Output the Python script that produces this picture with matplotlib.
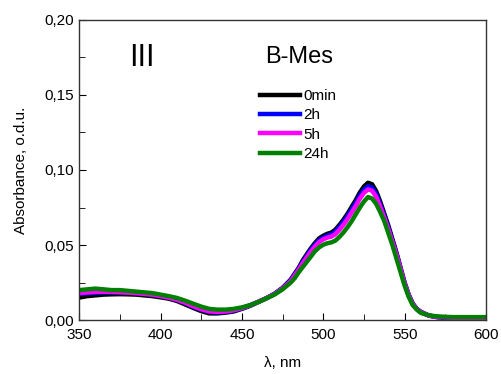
import numpy as np
import matplotlib.pyplot as plt
from matplotlib.ticker import MultipleLocator, FuncFormatter

plt.rcParams['font.family'] = ['Liberation Sans', 'DejaVu Sans']

wavelength = [350, 355, 360, 365, 370, 375, 380, 385, 390, 395,
              400, 405, 410, 415, 420, 425, 430, 435, 440, 445,
              450, 455, 460, 465, 470, 475,
              480, 482.5, 485, 487.5, 490, 492.5, 495, 497.5, 500, 502.5,
              505, 507.5, 510, 512.5, 515, 517.5, 520, 522.5, 525, 527.5,
              530, 532.5, 535, 537.5, 540, 542.5, 545, 547.5, 550, 552.5,
              555, 557.5, 560,
              565, 570, 575, 580, 585, 590, 595, 600]

abs_0min = [0.0150, 0.0160, 0.0165, 0.0170, 0.0172, 0.0173, 0.0172, 0.0170, 0.0165, 0.0160,
            0.0152, 0.0143, 0.0128, 0.0105, 0.0082, 0.0060, 0.0045, 0.0045, 0.0050, 0.0058,
            0.0075, 0.0095, 0.0120, 0.0145, 0.0175, 0.0215,
            0.0270, 0.0310, 0.0350, 0.0400, 0.0440, 0.0480, 0.0515, 0.0545, 0.0562, 0.0575,
            0.0583, 0.0603, 0.0635, 0.0670, 0.0710, 0.0755, 0.0800, 0.0850, 0.0890, 0.0915,
            0.0905, 0.0860, 0.0790, 0.0710, 0.0630, 0.0540, 0.0450, 0.0350, 0.0250, 0.0170,
            0.0110, 0.0075, 0.0055,
            0.0030, 0.0020, 0.0015, 0.0013, 0.0012, 0.0011, 0.0010, 0.0010]

abs_2h = [0.0175, 0.0180, 0.0183, 0.0185, 0.0186, 0.0186, 0.0184, 0.0180, 0.0175, 0.0170,
          0.0160, 0.0150, 0.0135, 0.0115, 0.0090, 0.0070, 0.0055, 0.0052, 0.0055, 0.0063,
          0.0078, 0.0098, 0.0122, 0.0146, 0.0175, 0.0212,
          0.0265, 0.0305, 0.0345, 0.0390, 0.0430, 0.0470, 0.0505, 0.0533, 0.0550, 0.0563,
          0.0571, 0.0590, 0.0621, 0.0655, 0.0695, 0.0738, 0.0782, 0.0830, 0.0868, 0.0892,
          0.0883, 0.0840, 0.0772, 0.0695, 0.0617, 0.0530, 0.0442, 0.0345, 0.0247, 0.0168,
          0.0108, 0.0074, 0.0054,
          0.0030, 0.0021, 0.0017, 0.0015, 0.0014, 0.0013, 0.0012, 0.0012]

abs_5h = [0.0180, 0.0185, 0.0188, 0.0189, 0.0188, 0.0186, 0.0184, 0.0180, 0.0175, 0.0170,
          0.0160, 0.0150, 0.0136, 0.0117, 0.0093, 0.0073, 0.0058, 0.0055, 0.0058, 0.0066,
          0.0080, 0.0099, 0.0122, 0.0146, 0.0174, 0.0210,
          0.0260, 0.0298, 0.0338, 0.0380, 0.0420, 0.0458, 0.0492, 0.0520, 0.0538, 0.0550,
          0.0556, 0.0573, 0.0603, 0.0636, 0.0675, 0.0717, 0.0760, 0.0810, 0.0847, 0.0871,
          0.0862, 0.0822, 0.0756, 0.0682, 0.0605, 0.0520, 0.0435, 0.0340, 0.0243, 0.0165,
          0.0106, 0.0073, 0.0053,
          0.0030, 0.0022, 0.0018, 0.0016, 0.0015, 0.0014, 0.0014, 0.0013]

abs_24h = [0.0200, 0.0205, 0.0210, 0.0205, 0.0200, 0.0200, 0.0195, 0.0190, 0.0185, 0.0180,
           0.0170, 0.0160, 0.0148, 0.0130, 0.0110, 0.0090, 0.0075, 0.0070, 0.0070, 0.0075,
           0.0085, 0.0100, 0.0120, 0.0145, 0.0170, 0.0205,
           0.0250, 0.0280, 0.0320, 0.0355, 0.0390, 0.0425, 0.0460, 0.0485, 0.0502, 0.0512,
           0.0518, 0.0530, 0.0555, 0.0585, 0.0620, 0.0660, 0.0705, 0.0750, 0.0790, 0.0820,
           0.0810, 0.0775, 0.0720, 0.0660, 0.0580, 0.0500, 0.0410, 0.0320, 0.0230, 0.0155,
           0.0100, 0.0070, 0.0048,
           0.0032, 0.0025, 0.0022, 0.0020, 0.0020, 0.0020, 0.0020, 0.0020]

labels = ['0min', '2h', '5h', '24h']
colors = ['black', 'blue', 'magenta', 'green']

fig = plt.figure(figsize=(5.01, 3.74), dpi=100)
ax = fig.add_axes([0.158, 0.144, 0.812, 0.803])

for series, lab, col in zip([abs_0min, abs_2h, abs_5h, abs_24h], labels, colors):
    ax.plot(wavelength, series, color=col, linewidth=3.2, label=lab)

ax.set_xlim(350, 600)
ax.set_ylim(0, 0.20)
ax.xaxis.set_major_locator(MultipleLocator(50))
ax.xaxis.set_minor_locator(MultipleLocator(25))
ax.yaxis.set_major_locator(MultipleLocator(0.05))
ax.yaxis.set_minor_locator(MultipleLocator(0.025))
ax.yaxis.set_major_formatter(FuncFormatter(lambda v, p: f'{v:.2f}'.replace('.', ',')))
ax.tick_params(which='both', direction='in', labelsize=11, top=False, right=False)
ax.tick_params(which='major', length=5)
ax.tick_params(which='minor', length=4)
ax.tick_params(axis='x', pad=6)
for s in ax.spines.values():
    s.set_color('#333333')
    s.set_linewidth(1)

ax.set_xlabel('λ, nm', fontsize=11, labelpad=10)
ax.set_ylabel('Absorbance, o.d.u.', fontsize=11, labelpad=12)

ax.text(0.153, 0.873, 'III', transform=ax.transAxes, fontsize=22, ha='center', va='center')
ax.text(0.457, 0.877, 'B-Mes', transform=ax.transAxes, fontsize=17, ha='left', va='center')

ax.legend(loc='upper left', bbox_to_anchor=(0.43, 0.79), frameon=False, fontsize=11,
          handlelength=2.6, handletextpad=0.2, labelspacing=0.35, borderaxespad=0)

fig.savefig('out.png', dpi=100)
